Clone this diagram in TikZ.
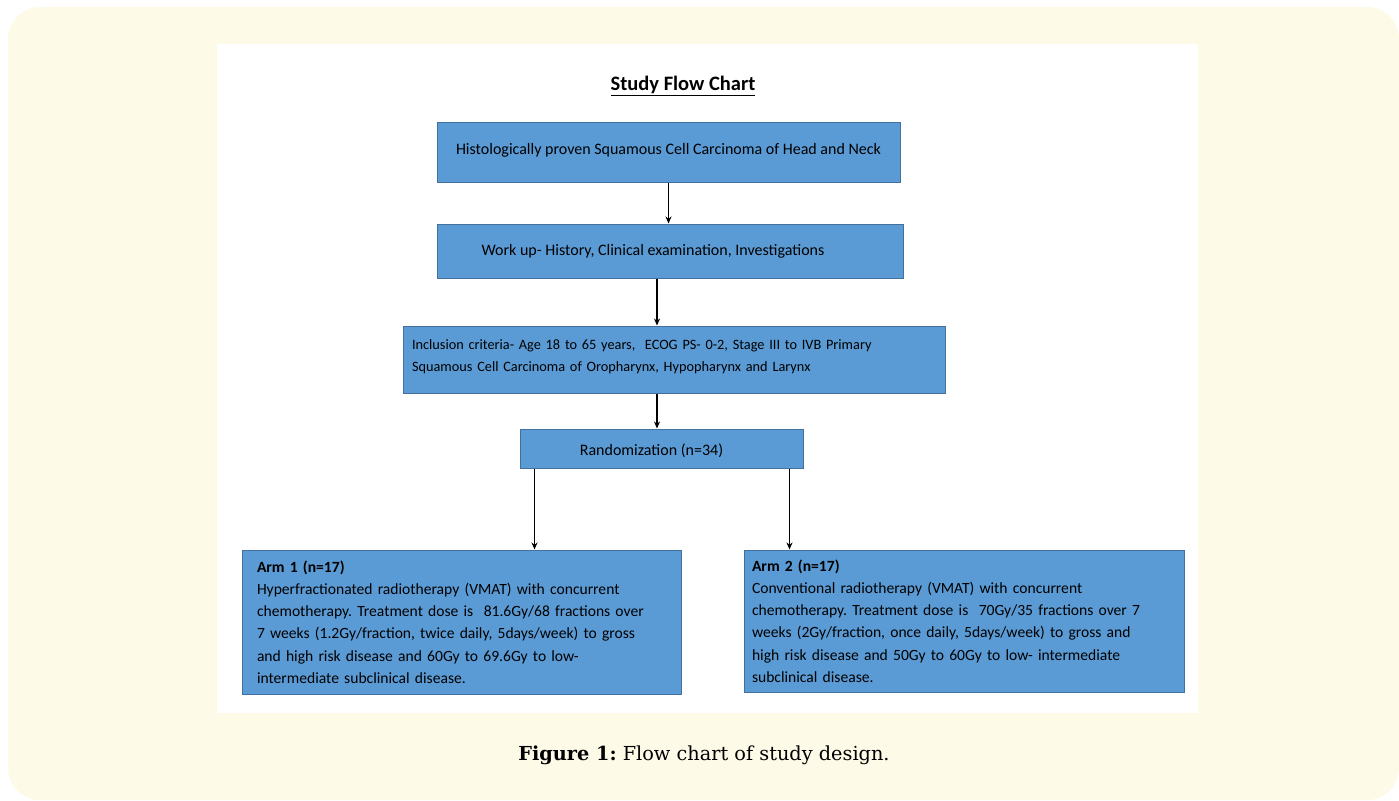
\documentclass[tikz,border=0pt]{standalone}
\usepackage{fontspec}
\setmainfont{Carlito}
\newfontfamily\capfont{DejaVu Serif}
\usetikzlibrary{arrows.meta, calc}
\definecolor{cream}{HTML}{FEFAE8}
\definecolor{boxblue}{HTML}{5B9BD5}
\definecolor{boxline}{HTML}{41719C}
\tikzset{
    flowbox/.style={draw=boxline, fill=boxblue, line width=1pt, inner sep=0pt, font=\fontsize{16}{22}\selectfont},
    armbox/.style={flowbox, align=left, font=\fontsize{15.6}{22.2}\selectfont},
    arr/.style={-{Stealth[length=7pt, width=6pt]}, line width=1.6pt}
}
\begin{document}
\frenchspacing
\begin{tikzpicture}[x=1pt, y=-1pt]
    \useasboundingbox (0,0) rectangle (1399,800);
    % page and figure panel
    \fill[cream, rounded corners=32pt] (8,7) rectangle (1399,800);
    \fill[white] (217,44) rectangle (1198,713);

    \node[font=\bfseries\fontsize{20.5}{24}\selectfont] (title) at (683,86) {\underline{Study Flow Chart}};

    \node[flowbox, minimum width=463pt, minimum height=60pt] (histo) at (668.5,152) {Histologically proven Squamous Cell Carcinoma of Head and Neck\rule[-6pt]{0pt}{0pt}};
    \node[flowbox, minimum width=466pt, minimum height=54pt] (workup) at (670,251) {\hspace*{-34pt}Work up- History, Clinical examination, Investigations};
    \node[flowbox, inner xsep=9pt, text width=524pt, align=left, minimum height=67pt, font=\fontsize{14.3}{22}\selectfont] (incl) at (674,359.5)
        {Inclusion criteria- Age 18 to 65 years,\ \ ECOG PS- 0-2, Stage III to IVB Primary\\
         Squamous Cell Carcinoma of Oropharynx, Hypopharynx and Larynx\rule[-8pt]{0pt}{0pt}};
    \node[flowbox, minimum width=283pt, minimum height=39pt] (rand) at (661.5,448.5) {\hspace*{-20pt}\rule{0pt}{16pt}Randomization (n=34)};

    \node[armbox, inner xsep=15pt, text width=409pt, minimum height=144pt] (arm1) at (461.5,622)
        {\textbf{Arm 1 (n=17)}\\
         Hyperfractionated radiotherapy (VMAT) with concurrent\\
         chemotherapy. Treatment dose is\ \ 81.6Gy/68 fractions over\\
         7 weeks (1.2Gy/fraction, twice daily, 5days/week) to gross\\
         and high risk disease and 60Gy to 69.6Gy to low-\\
         intermediate subclinical disease.};
    \node[armbox, inner xsep=8pt, text width=424pt, minimum height=142pt] (arm2) at (964,621)
        {\textbf{Arm 2 (n=17)}\\
         Conventional radiotherapy (VMAT) with concurrent\\
         chemotherapy. Treatment dose is\ \ 70Gy/35 fractions over 7\\
         weeks (2Gy/fraction, once daily, 5days/week) to gross and\\
         high risk disease and 50Gy to 60Gy to low- intermediate\\
         subclinical disease.};

    \draw[arr] (histo) -- (histo.south |- workup.north);
    \draw[arr] ([xshift=-13pt]workup.south) -- ([xshift=-13pt]workup.south |- incl.north);
    \draw[arr] ([xshift=-4.5pt]rand.north |- incl.south) -- ([xshift=-4.5pt]rand.north);
    \draw[arr] ([xshift=15pt]rand.south west) -- ([xshift=15pt]rand.south west |- arm1.north);
    \draw[arr] ([xshift=-14pt]rand.south east) -- ([xshift=-14pt]rand.south east |- arm2.north);

    \node[font=\capfont\fontsize{19.3}{22}\selectfont] (caption) at (704,755) {\textbf{Figure 1:} Flow chart of study design.};
\end{tikzpicture}
\end{document}
